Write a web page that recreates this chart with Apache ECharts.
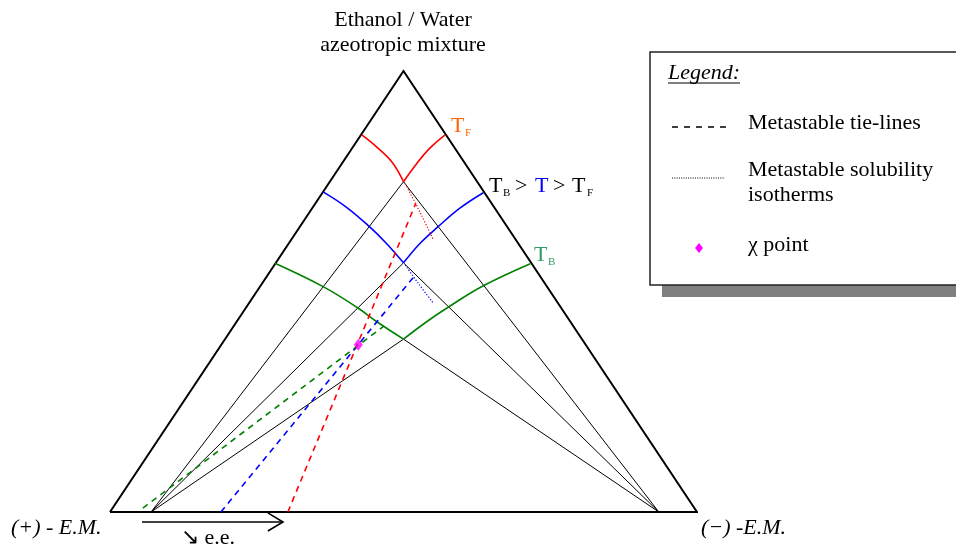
<!DOCTYPE html>
<html>
<head>
<meta charset="utf-8">
<script src="https://cdn.jsdelivr.net/npm/echarts@6/dist/echarts.min.js"></script>
<style>
  html, body { margin: 0; padding: 0; background: #fff; }
  #main { width: 956px; height: 546px; }
</style>
</head>
<body>
<div id="main"></div>
<script>
// diagram coordinates: x 0..100 along the base, y 0..100 up to the apex
var triangle = [[0, 0], [50, 100], [100, 0], [0, 0]];
var fanLeft = [7.0, 0];
var fanRight = [93.5, 0];
var cusps = [[50, 74.9], [50, 56.5], [50, 39.2]];

// solubility isotherms (stable branches)
var redLeft = [[42.9, 85.5], [45.4, 82.8], [48.0, 79.4], [50, 74.9]];
var redRight = [[50, 74.9], [52.3, 79.1], [54.5, 82.5], [57.1, 85.5]];
var blueLeft = [[36.3, 72.6], [40.3, 69.1], [44.2, 64.7], [47.1, 60.9], [50, 56.5]];
var blueRight = [[50, 56.5], [52.8, 60.9], [55.9, 64.7], [59.6, 68.9], [63.6, 72.4]];
var greenLeft = [[28.1, 56.4], [36.3, 51.1], [42.3, 46.2], [45.4, 43.2], [50, 39.2]];
var greenRight = [[50, 39.2], [54.0, 43.2], [57.8, 46.6], [63.6, 51.3], [71.6, 56.3]];

// metastable tie-lines (dashed)
var redTie = [[30.3, 0], [52.1, 70.0]];
var blueTie = [[18.9, 0], [51.8, 53.4]];
var greenTie = [[5.6, 0.9], [46.7, 42.2]];

// metastable solubility isotherms (dotted)
var redMeta = [[50.3, 74.4], [52.8, 68.0], [55.1, 61.7]];
var blueMeta = [[50.3, 56.0], [52.6, 51.7], [55.0, 47.5]];

var chiPoint = [[42.3, 37.9]];

// e.e. arrow under the base
var eeArrow = [[5.45, -2.27], [29.47, -2.27]];
var eeHead = [[26.9, -0.2], [29.47, -2.27], [26.9, -4.3]];

var RED = '#ff0000', BLUE = '#0000ff', GREEN = '#008000';
var serif = '"Liberation Serif", "Times New Roman", serif';

var chart = echarts.init(document.getElementById('main'), null, { renderer: 'canvas' });

function line(data, color, width, dash, smooth) {
  return {
    type: 'line',
    data: data,
    symbol: 'none',
    smooth: smooth || false,
    silent: true,
    clip: false,
    lineStyle: { color: color, width: width, type: dash || 'solid', join: 'miter', cap: 'butt' },
    z: 2
  };
}

var series = [];
// black tie-lines from both enantiomers to each cusp
cusps.forEach(function (c) {
  series.push(line([fanLeft, c], '#000', 1));
  series.push(line([fanRight, c], '#000', 1));
});
series.push(line(triangle, '#000', 2));
series.push(line(redLeft, RED, 1.6, null, 0.4));
series.push(line(redRight, RED, 1.6, null, 0.4));
series.push(line(blueLeft, BLUE, 1.6, null, 0.4));
series.push(line(blueRight, BLUE, 1.6, null, 0.4));
series.push(line(greenLeft, GREEN, 1.6, null, 0.4));
series.push(line(greenRight, GREEN, 1.6, null, 0.4));
series.push(line(redTie, RED, 1.6, [6, 5]));
series.push(line(blueTie, BLUE, 1.6, [6, 5]));
series.push(line(greenTie, GREEN, 1.6, [6, 5]));
series.push(line(redMeta, RED, 1.2, [1.2, 1.8], 0.4));
series.push(line(blueMeta, BLUE, 1.2, [1.2, 1.8], 0.4));
series.push(line(eeArrow, '#000', 1.6));
series.push(line(eeHead, '#000', 1.6));
series.push({
  type: 'scatter',
  data: chiPoint,
  symbol: 'diamond',
  symbolSize: [9, 12],
  itemStyle: { color: '#ff00ff' },
  silent: true,
  z: 5
});

function txt(x, y, s, size, color, opts) {
  var o = opts || {};
  return {
    type: 'text',
    x: x, y: y,
    silent: true,
    z: 10,
    style: {
      text: s,
      fill: color || '#000',
      font: (o.italic ? 'italic ' : '') + size + 'px ' + serif,
      align: o.align || 'left',
      verticalAlign: 'middle'
    }
  };
}

var graphics = [
  // legend box
  { type: 'rect', shape: { x: 662, y: 64, width: 320, height: 233 }, style: { fill: '#808080' }, z: 1, silent: true },
  { type: 'rect', shape: { x: 650, y: 52, width: 320, height: 233 }, style: { fill: '#fff', stroke: '#222', lineWidth: 1.5 }, z: 2, silent: true },
  txt(668, 73, 'Legend:', 22, '#000', { italic: true }),
  { type: 'line', shape: { x1: 668, y1: 83, x2: 740, y2: 83 }, style: { stroke: '#000', lineWidth: 1 }, z: 10, silent: true },
  { type: 'line', shape: { x1: 672, y1: 127, x2: 727, y2: 127 }, style: { stroke: '#000', lineWidth: 1.5, lineDash: [6, 6] }, z: 10, silent: true },
  txt(748, 123, 'Metastable tie-lines', 22),
  { type: 'line', shape: { x1: 672, y1: 178, x2: 725, y2: 178 }, style: { stroke: '#000', lineWidth: 1, lineDash: [1, 1.3] }, z: 10, silent: true },
  txt(748, 170, 'Metastable solubility', 22),
  txt(748, 195, 'isotherms', 22),
  { type: 'polygon', shape: { points: [[699, 243], [703, 248], [699, 253], [695, 248]] }, style: { fill: '#ff00ff' }, z: 10, silent: true },
  txt(748, 245, '\u03c7 point', 22),

  // title
  txt(403, 20, 'Ethanol / Water', 22, '#000', { align: 'center' }),
  txt(403, 45, 'azeotropic mixture', 22, '#000', { align: 'center' }),

  // isotherm labels
  txt(451, 126, 'T', 22, '#ff6600'),
  txt(465, 133, 'F', 11, '#ff6600'),
  txt(489, 186, 'T', 22, '#000'),
  txt(503, 193, 'B', 11, '#000'),
  txt(515, 186, '>', 22, '#000'),
  txt(535, 186, 'T', 22, BLUE),
  txt(553, 186, '>', 22, '#000'),
  txt(572, 186, 'T', 22, '#000'),
  txt(587, 193, 'F', 11, '#000'),
  txt(534, 255, 'T', 22, '#339966'),
  txt(548, 262, 'B', 11, '#339966'),

  // vertices
  txt(11, 528, '(+) - E.M.', 22, '#000', { italic: true }),
  txt(701, 528, '(\u2212) -E.M.', 22, '#000', { italic: true }),
  txt(181, 538, '\u2198 e.e.', 22, '#000')
];

var option = {
  animation: false,
  grid: { left: 110, top: 71, width: 587, height: 441, containLabel: false },
  xAxis: { type: 'value', min: 0, max: 100, show: false },
  yAxis: { type: 'value', min: 0, max: 100, show: false },
  series: series,
  graphic: graphics
};
chart.setOption(option);
</script>
</body>
</html>
